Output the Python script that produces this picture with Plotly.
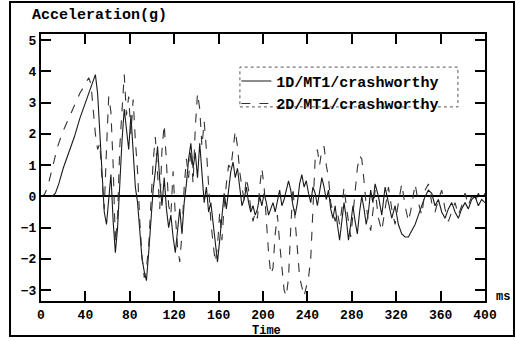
import plotly.graph_objects as go

# ---- data ----
time_2d = [0, 3, 6, 10, 15, 20, 25, 30, 35, 40, 43, 45, 47, 49, 51, 53, 55, 57, 59, 61,
           63, 65, 67, 69, 71, 73, 75, 77, 79, 81, 83, 85, 87, 89, 91, 93, 95, 97, 99, 101,
           103, 105, 107, 109, 111, 113, 115, 117, 119, 121, 123, 125, 127, 129, 131, 133, 135, 137, 139, 141,
           143, 145, 147, 149, 151, 153, 155, 157, 159, 161, 163, 165, 167, 169, 171, 173, 175, 177, 179, 181,
           183, 185, 187, 189, 191, 193, 195, 197, 199, 201, 203, 205, 207, 209, 211, 213, 215, 217, 219, 221,
           223, 225, 227, 229, 231, 233, 235, 237, 239, 241, 243, 245, 247, 249, 251, 253, 255, 257, 259, 261,
           263, 265, 267, 269, 271, 273, 275, 277, 279, 281, 283, 285, 287, 289, 291, 293, 295, 297, 299, 301,
           304, 307, 310, 313, 316, 319, 322, 325, 328, 331, 334, 337, 340, 343, 346, 349, 352, 355, 358, 361,
           364, 367, 370, 373, 376, 379, 382, 385, 388, 391, 394, 397, 400]
accel_2d = [0.0, 0.05, 0.3, 0.9, 1.6, 2.1, 2.5, 2.9, 3.3, 3.6, 3.8, 3.6, 2.8, 2.0, 1.5, 1.7, 0.5, -0.4, 1.5, 3.2,
            2.7, 1.0, -1.5, -0.6, 1.6, 2.9, 3.9, 2.6, 3.2, 2.0, 3.1, 1.8, 0.8, -0.8, -1.9, -2.6, -2.3, -1.6, -0.2, 1.1,
            1.9, 0.6, -0.4, 1.5, 2.3, 1.1, -0.3, -0.6, 0.8, -0.6, -1.6, -2.1, -1.2, 0.3, 1.2, 0.6, 1.5, 0.4, 2.2, 3.3,
            2.8, 1.6, 2.4, 1.5, 0.2, -0.8, -1.5, -2.1, -1.6, -0.5, -1.4, -0.3, 0.4, 1.0, 0.9, 1.6, 2.1, 1.6, 0.8, 0.3,
            -0.1, 0.6, 0.2, -0.4, -0.8, -0.5, -0.7, 0.3, 0.9, 0.3, -0.8, -1.8, -2.5, -2.3, -1.2, -0.6, -1.5, -2.4, -3.0, -3.2,
            -2.6, -1.0, 0.3, -0.8, -1.8, -2.6, -2.9, -3.2, -2.9, -2.6, -2.0, -0.5, 1.2, 1.5, 1.0, 1.5, 1.6, 1.0, 0.6, -0.2,
            -0.5, -0.8, -0.5, -0.9, -0.4, 0.3, -0.3, -0.9, -1.3, -0.6, 0.3, 0.9, 1.3, 1.2, 0.5, -0.3, -0.8, -1.1, -0.5, 0.2,
            -0.7, -1.1, -0.4, 0.3, -0.4, -0.9, -0.2, 0.4, -0.3, -0.8, -0.3, 0.4, -0.2, -0.6, 0.2, 0.4, -0.2, -0.5, -0.1, 0.2,
            -0.4, -0.8, -0.5, -0.2, -0.6, -0.3, 0.1, -0.3, 0.0, -0.2, 0.1, -0.1, 0.1]

time_1d = [0, 10, 13, 16, 20, 25, 30, 35, 40, 45, 49, 51, 53, 55, 57, 59, 61, 63, 65, 67,
           69, 71, 73, 75, 77, 79, 81, 83, 85, 87, 89, 91, 93, 95, 97, 99, 101, 103, 105, 107,
           109, 111, 113, 115, 117, 119, 121, 123, 125, 127, 129, 131, 133, 135, 137, 139, 141, 143, 145, 147,
           149, 151, 153, 155, 157, 159, 161, 163, 165, 167, 169, 171, 173, 175, 177, 179, 181, 183, 185, 187,
           189, 191, 193, 195, 197, 199, 201, 203, 205, 207, 209, 211, 213, 215, 217, 219, 221, 223, 225, 227,
           229, 231, 233, 235, 237, 239, 241, 243, 245, 247, 249, 251, 253, 255, 257, 259, 261, 263, 265, 267,
           269, 271, 273, 275, 277, 279, 281, 283, 285, 287, 289, 291, 293, 295, 297, 299, 301, 304, 307, 310,
           313, 316, 319, 322, 325, 328, 331, 334, 337, 340, 343, 346, 349, 352, 355, 358, 361, 364, 367, 370,
           373, 376, 379, 382, 385, 388, 391, 394, 397, 400]
accel_1d = [0.0, 0.0, 0.1, 0.4, 0.9, 1.4, 1.9, 2.5, 3.0, 3.5, 3.9, 3.3, 2.0, 0.8, -0.5, -0.9, -0.2, 0.7, -0.8, -1.8,
            -1.0, 0.5, 1.8, 2.8, 2.2, 1.5, 2.6, 1.4, 0.3, -0.2, -1.2, -2.0, -2.4, -2.7, -1.8, -0.8, 0.2, 0.8, 1.6, 0.5,
            -0.3, 0.6, -0.4, -1.0, -0.6, -1.3, -1.8, -1.1, -0.4, -1.2, -0.2, 0.4, 1.2, 1.7, 0.9, 1.4, 0.6, 1.7, 0.8, -0.2,
            0.3, -0.5, -0.2, -0.8, -1.6, -2.1, -1.4, -0.6, 0.1, -0.4, 0.2, 0.8, 1.1, 0.6, 0.9, 0.2, -0.3, -0.1, 0.3, -0.2,
            -0.5, -0.3, -0.6, -0.4, 0.0, -0.3, 0.1, -0.2, -0.6, -0.4, -0.2, -0.5, -0.1, 0.2, -0.3, -0.1, 0.2, 0.5, 0.2, -0.3,
            -0.6, -0.2, 0.4, 0.7, 0.3, 0.5, 0.1, -0.2, 0.3, 0.1, -0.3, 0.2, 0.6, 0.3, -0.1, 0.2, -0.4, -0.7, -0.3, -0.9,
            -1.4, -0.8, -0.2, -0.7, -1.4, -0.9, -0.3, -0.8, -1.2, -0.5, 0.0, -0.4, -0.9, -0.5, 0.2, -0.2, 0.4, 0.0, -0.6, 0.3,
            -0.2, -0.7, -0.3, -0.9, -1.2, -1.3, -1.3, -1.1, -0.9, -0.6, -0.3, 0.0, 0.2, 0.1, -0.3, -0.1, -0.5, -0.7, -0.4, -0.2,
            -0.5, -0.7, -0.4, -0.2, -0.4, -0.1, 0.0, -0.3, -0.1, -0.2]

series_names = ["1D/MT1/crashworthy", "2D/MT1/crashworthy"]
x_ticks = [0, 40, 80, 120, 160, 200, 240, 280, 320, 360, 400]
y_ticks = [-3, -2, -1, 0, 1, 2, 3, 4, 5]

MONO = "Liberation Mono, Courier New, monospace"

fig = go.Figure()
fig.add_trace(go.Scatter(x=time_1d, y=accel_1d, mode="lines", name=series_names[0],
                         line=dict(color="#1a1a1a", width=1.1)))
fig.add_trace(go.Scatter(x=time_2d, y=accel_2d, mode="lines", name=series_names[1],
                         line=dict(color="#333333", width=1.1, dash="dash")))

axis_common = dict(showgrid=False, showline=True, linecolor="black", linewidth=2,
                   mirror="ticks", ticks="inside", ticklen=10, tickwidth=2, tickcolor="black",
                   tickfont=dict(family=MONO, size=13, color="black", weight="bold"))

fig.update_xaxes(range=[0, 400], tickvals=x_ticks, zeroline=False, **axis_common)
fig.update_yaxes(range=[-3.35, 5.2], tickvals=y_ticks, zeroline=True, zerolinecolor="black",
                 zerolinewidth=2, **axis_common)

# outer frame
fig.add_shape(type="rect", xref="paper", yref="paper", x0=-0.0698, x1=1.0653, y0=-0.131, y1=1.1199,
              line=dict(color="black", width=2), layer="above")
# dotted legend box
fig.add_shape(type="rect", xref="paper", yref="paper", x0=0.448, x1=0.939, y0=0.727, y1=0.876,
              line=dict(color="#555555", width=1, dash="dot"))

fig.add_annotation(text="Acceleration(g)", xref="paper", yref="paper", x=-0.025, y=1.07,
                   xanchor="left", yanchor="middle", showarrow=False,
                   font=dict(family=MONO, size=15, color="black", weight="bold"))
fig.add_annotation(text="Time", xref="paper", yref="paper", x=0.507, y=-0.112,
                   xanchor="center", yanchor="middle", showarrow=False,
                   font=dict(family=MONO, size=12, color="black", weight="bold"))
fig.add_annotation(text="ms", xref="paper", yref="paper", x=1.02, y=0.015,
                   xanchor="left", yanchor="middle", showarrow=False,
                   font=dict(family=MONO, size=12, color="black", weight="bold"))

fig.update_layout(
    width=516, height=341,
    margin=dict(l=41, r=31, t=34, b=40),
    paper_bgcolor="white", plot_bgcolor="white",
    showlegend=True,
    legend=dict(x=0.44, y=0.885, xanchor="left", yanchor="top", bgcolor="rgba(0,0,0,0)",
                borderwidth=0, tracegroupgap=0, itemwidth=30,
                font=dict(family=MONO, size=15, color="black", weight="bold")),
)

fig.write_html("out.html", config={"displayModeBar": False},
               post_script="document.body.style.margin='0';")
